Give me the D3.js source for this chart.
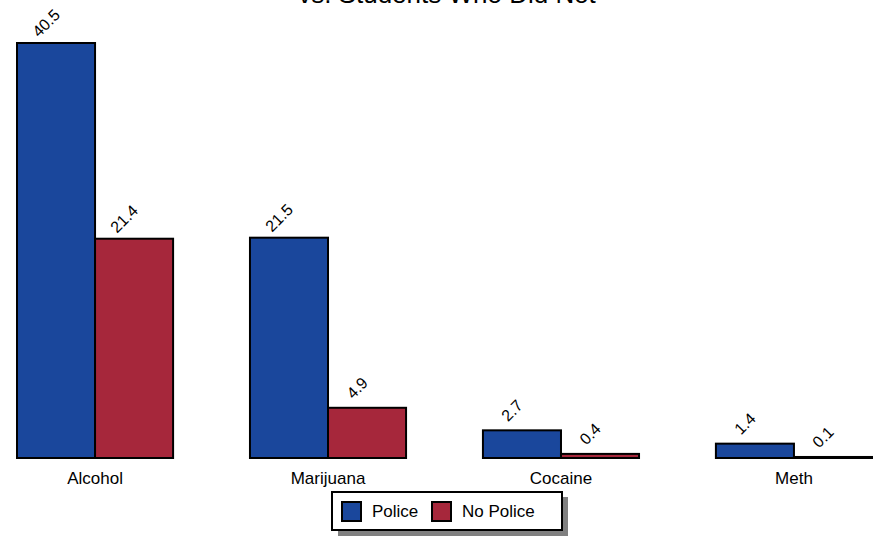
<!DOCTYPE html>
<html>
<head>
<meta charset="utf-8">
<script src="https://cdn.jsdelivr.net/npm/d3@7"></script>
<style>
  html, body { margin: 0; padding: 0; background: #fff; }
  svg { display: block; font-family: "Liberation Sans", Arial, sans-serif; }
</style>
</head>
<body>
<svg id="chart" width="878" height="536"></svg>
<script>
const categories = ["Alcohol", "Marijuana", "Cocaine", "Meth"];
const seriesNames = ["Police", "No Police"];
const policeValues = [40.5, 21.5, 2.7, 1.4];
const noPoliceValues = [21.4, 4.9, 0.4, 0.1];
const colors = ["#1a479c", "#a6273b"];
const titleLine = "vs. Students Who Did Not";

const svg = d3.select("#chart");
const seriesValues = [policeValues, noPoliceValues];

const x0 = d3.scaleBand().domain(categories).range([17, 872]).paddingInner(0.33).paddingOuter(0);
const x1 = d3.scaleBand().domain(seriesNames).range([0, x0.bandwidth()]);
const y = d3.scaleLinear().domain([0, 40.5]).range([458, 43]);

// Title (partially cut off at top)
svg.append("text")
  .attr("x", 447).attr("y", 3)
  .attr("text-anchor", "middle")
  .attr("font-size", 26)
  .attr("fill", "#000")
  .text(titleLine);

const data = [];
categories.forEach((c, i) => {
  seriesNames.forEach((s, j) => data.push({cat: c, ser: s, j: j, v: seriesValues[j][i]}));
});

svg.append("g").selectAll("rect").data(data).join("rect")
  .attr("x", d => x0(d.cat) + x1(d.ser))
  .attr("y", d => y(d.v))
  .attr("width", x1.bandwidth())
  .attr("height", d => y(0) - y(d.v))
  .attr("fill", d => colors[d.j])
  .attr("stroke", "#000")
  .attr("stroke-width", 2);

svg.append("g").selectAll("text").data(data).join("text")
  .attr("transform", d => {
    const cx = x0(d.cat) + x1(d.ser) + x1.bandwidth() / 2;
    return `translate(${cx - 6},${y(d.v) - 16}) rotate(-45)`;
  })
  .attr("text-anchor", "middle")
  .attr("font-size", 16)
  .attr("fill", "#000")
  .text(d => d.v.toFixed(1));

// Category axis labels
const xAxis = d3.axisBottom(x0).tickSize(0).tickPadding(0);
const ax = svg.append("g").attr("transform", "translate(0,458)").call(xAxis);
ax.select(".domain").remove();
ax.selectAll("text")
  .attr("font-size", 17)
  .attr("font-family", "Liberation Sans, Arial, sans-serif")
  .attr("fill", "#000")
  .attr("dy", null)
  .attr("y", 26);

// Legend
const lg = svg.append("g");
lg.append("rect").attr("x", 338).attr("y", 497).attr("width", 230).attr("height", 39).attr("fill", "#808080");
lg.append("rect").attr("x", 332).attr("y", 492).attr("width", 230).attr("height", 38)
  .attr("fill", "#fff").attr("stroke", "#000").attr("stroke-width", 2);
const legendX = [342, 432];
seriesNames.forEach((s, j) => {
  lg.append("rect").attr("x", legendX[j]).attr("y", 502).attr("width", 19).attr("height", 19)
    .attr("fill", colors[j]).attr("stroke", "#000").attr("stroke-width", 2);
  lg.append("text").attr("x", legendX[j] + 30).attr("y", 517)
    .attr("font-size", 17).attr("fill", "#000").text(s);
});
</script>
</body>
</html>
